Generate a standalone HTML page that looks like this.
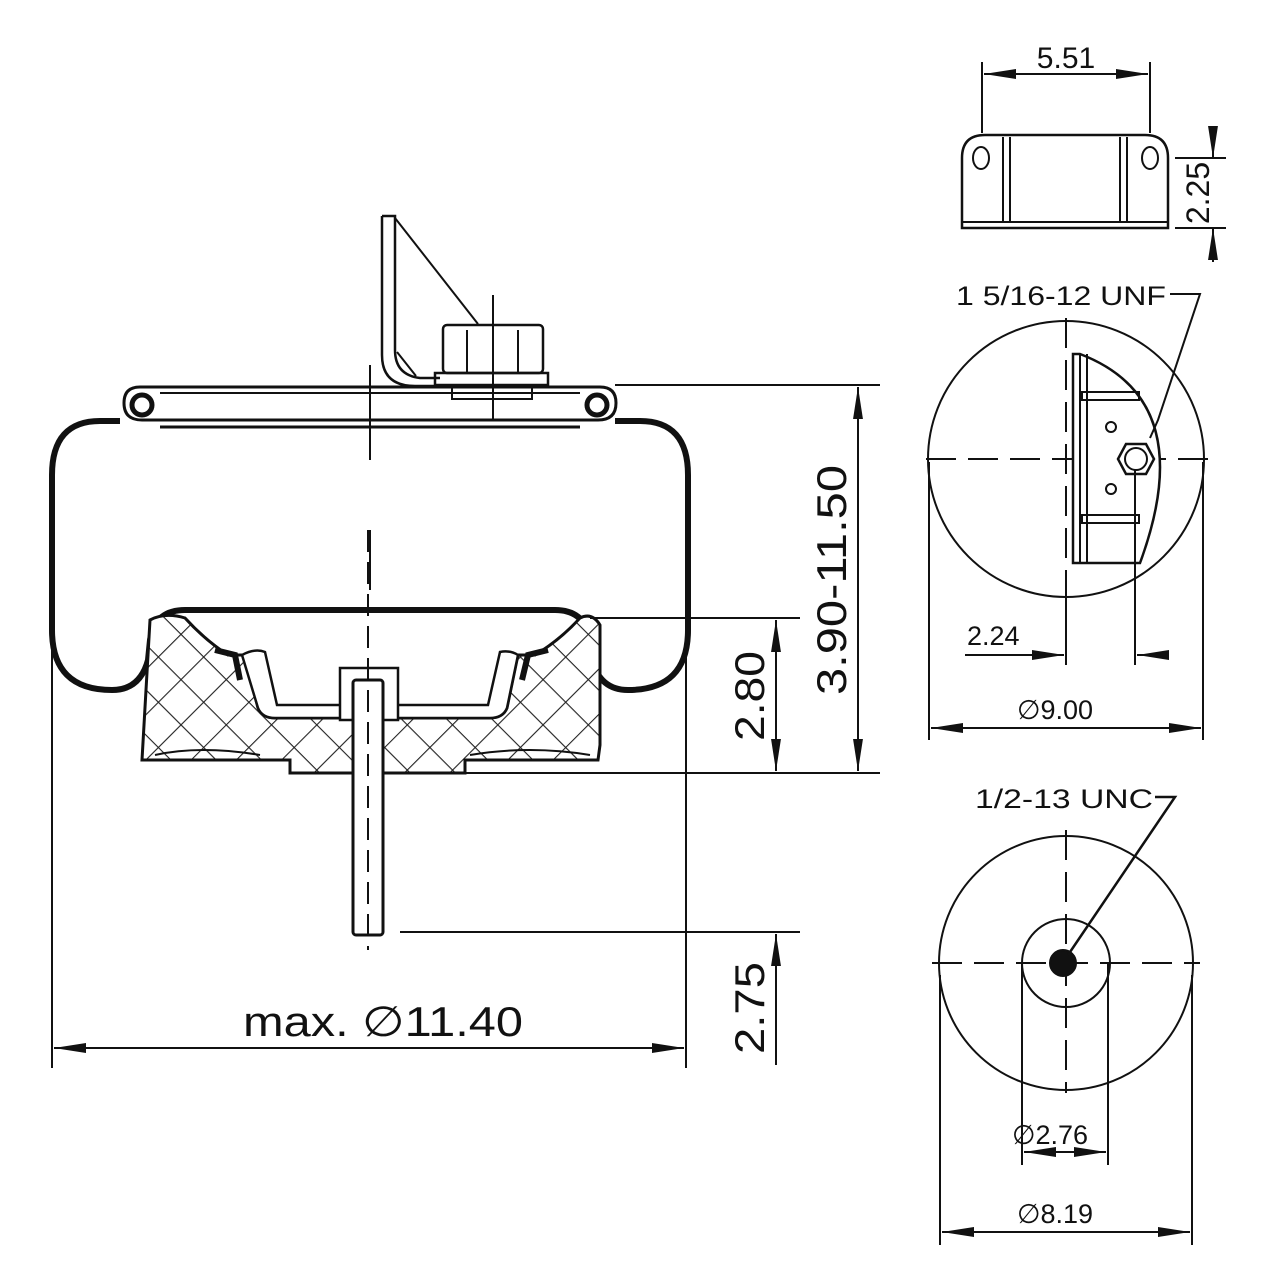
<!DOCTYPE html>
<html><head><meta charset="utf-8"><style>html,body{margin:0;padding:0;background:#fff}svg{display:block}text{font-family:"Liberation Sans","DejaVu Sans",sans-serif;fill:#111}</style></head>
<body>
<svg width="1280" height="1280" viewBox="0 0 1280 1280" xmlns="http://www.w3.org/2000/svg">
<defs>
<pattern id="hx" width="32" height="32" patternUnits="userSpaceOnUse" patternTransform="rotate(45)">
<rect width="32" height="32" fill="#fff"/>
<line x1="0" y1="0" x2="32" y2="0" stroke="#222" stroke-width="2.2"/>
<line x1="0" y1="0" x2="0" y2="32" stroke="#222" stroke-width="2.2"/>
</pattern>
<marker id="ar" viewBox="0 0 10 10" preserveAspectRatio="none" refX="10" refY="5" markerWidth="32" markerHeight="11" markerUnits="userSpaceOnUse" orient="auto-start-reverse"><path d="M0,0.5 L10,5 L0,9.5z" fill="#111"/></marker>
</defs>
<g stroke="#111" fill="none" stroke-width="2">
<path d="M120,421 L100,421 Q52,421 52,475 L52,630 Q52,690 112,690 Q140,690 148,660 L150,640 Q155,610 185,610 L555,610 Q585,610 590,640 L592,660 Q600,690 628,690 Q688,690 688,630 L688,475 Q688,421 640,421 L615,421" stroke-width="6"/>
<path d="M140,387 L600,387 Q616,387 616,403 Q616,420 598,420 L142,420 Q124,420 124,403 Q124,387 140,387z" stroke-width="3"/>
<line x1="160" y1="393" x2="580" y2="393"/>
<line x1="160" y1="427" x2="580" y2="427" stroke-width="3"/>
<circle cx="142" cy="405" r="10" stroke-width="5"/>
<circle cx="597" cy="405" r="10" stroke-width="5"/>
<line x1="370" y1="365" x2="370" y2="460"/>
<line x1="370" y1="530" x2="370" y2="590"/>
<path d="M382,216 L395,216 L395,350 Q395,375 420,378 L440,378" stroke-width="2.5"/>
<path d="M382,216 L382,355 Q382,386 415,386 L440,386" stroke-width="2.5"/>
<line x1="395" y1="218" x2="478" y2="324"/>
<line x1="397" y1="352" x2="416" y2="376"/>
<rect x="443" y="325" width="100" height="48" rx="4" stroke-width="2.5"/>
<line x1="467" y1="330" x2="467" y2="372"/><line x1="518" y1="330" x2="518" y2="372"/>
<rect x="435" y="373" width="113" height="12" stroke-width="2.5"/>
<rect x="452" y="385" width="80" height="14" stroke-width="2"/>
<line x1="493" y1="295" x2="493" y2="420"/>
<path d="M150,620 Q165,612 185,618 Q205,640 228,655 L245,655 L258,708 Q262,718 275,718 L490,718 Q503,718 507,708 L518,655 L535,655 Q560,640 580,618 Q592,612 600,625 L600,745 L598,760 L465,760 L465,773 L290,773 L290,760 L142,760 L150,620z" fill="url(#hx)" stroke-width="3"/>
<path d="M242,655 L258,708 Q262,718 275,718 L490,718 Q503,718 507,708 L518,655 Q510,650 500,652 L488,705 L277,705 L265,652 Q255,648 242,655z" fill="#fff" stroke-width="2.5"/>
<path d="M215,650 L235,655 L240,680" stroke-width="6"/>
<path d="M548,650 L528,655 L522,680" stroke-width="6"/>
<path d="M340,720 L340,668 L398,668 L398,720z" fill="#fff" stroke-width="2.5"/>
<path d="M155,755 Q200,745 260,755 M470,755 Q530,745 590,755"/>
<rect x="353" y="680" width="30" height="255" rx="3" fill="#fff" stroke-width="3"/>
<line x1="368" y1="530" x2="368" y2="950" stroke-dasharray="22 10"/>
<line x1="615" y1="385" x2="880" y2="385"/>
<line x1="590" y1="618" x2="800" y2="618"/>
<line x1="465" y1="773" x2="880" y2="773"/>
<line x1="400" y1="932" x2="800" y2="932"/>
<line x1="52" y1="640" x2="52" y2="1068"/>
<line x1="686" y1="620" x2="686" y2="1068"/>
<line x1="858" y1="387" x2="858" y2="771" marker-start="url(#ar)" marker-end="url(#ar)"/>
<line x1="776" y1="620" x2="776" y2="771" marker-start="url(#ar)" marker-end="url(#ar)"/>
<line x1="776" y1="1065" x2="776" y2="934" marker-end="url(#ar)"/>
<line x1="54" y1="1048" x2="684" y2="1048" marker-start="url(#ar)" marker-end="url(#ar)"/>
<path d="M962,228 L962,158 Q962,135 985,135 L1145,135 Q1168,135 1168,158 L1168,228z" stroke-width="2.5"/>
<line x1="962" y1="222" x2="1168" y2="222"/>
<line x1="1003" y1="137" x2="1003" y2="222"/><line x1="1010" y1="137" x2="1010" y2="222"/>
<line x1="1120" y1="137" x2="1120" y2="222"/><line x1="1127" y1="137" x2="1127" y2="222"/>
<ellipse cx="981" cy="158" rx="8" ry="11"/><ellipse cx="1150" cy="158" rx="8" ry="11"/>
<line x1="982" y1="62" x2="982" y2="133"/><line x1="1150" y1="62" x2="1150" y2="133"/>
<line x1="984" y1="74" x2="1148" y2="74" marker-start="url(#ar)" marker-end="url(#ar)"/>
<line x1="1175" y1="158" x2="1226" y2="158"/><line x1="1175" y1="228" x2="1226" y2="228"/>
<line x1="1213" y1="126" x2="1213" y2="158" marker-end="url(#ar)"/>
<line x1="1213" y1="262" x2="1213" y2="228" marker-end="url(#ar)"/>
<circle cx="1066" cy="459" r="138"/>
<line x1="926" y1="459" x2="1208" y2="459" stroke-dasharray="30 12"/>
<line x1="1066" y1="318" x2="1066" y2="600" stroke-dasharray="30 12"/>
<path d="M1073,354 L1080,354 Q1200,400 1140,563 L1080,563 L1073,563z" fill="#fff" stroke-width="2.5"/>
<line x1="1080" y1="354" x2="1080" y2="563"/><line x1="1087" y1="354" x2="1087" y2="563"/>
<rect x="1082" y="392" width="57" height="8"/><rect x="1082" y="515" width="57" height="8"/>
<circle cx="1111" cy="427" r="5"/><circle cx="1111" cy="489" r="5"/>
<path d="M1118,459 L1126,444 L1146,444 L1154,459 L1146,474 L1126,474z" stroke-width="2.5"/>
<circle cx="1136" cy="459" r="11"/>
<path d="M1170,294 L1200,294 L1158,420 L1150,438" stroke-width="2"/>
<line x1="929" y1="462" x2="929" y2="740"/><line x1="1203" y1="462" x2="1203" y2="740"/>
<line x1="931" y1="728" x2="1201" y2="728" marker-start="url(#ar)" marker-end="url(#ar)"/>
<line x1="1066" y1="600" x2="1066" y2="665"/><line x1="1135" y1="470" x2="1135" y2="665"/>
<line x1="965" y1="655" x2="1064" y2="655" marker-end="url(#ar)"/>
<line x1="1167" y1="655" x2="1137" y2="655" marker-end="url(#ar)"/>
<circle cx="1066" cy="963" r="127"/>
<circle cx="1066" cy="963" r="44"/>
<circle cx="1063" cy="963" r="13" fill="#111"/>
<line x1="932" y1="963" x2="1200" y2="963" stroke-dasharray="30 12"/>
<line x1="1066" y1="830" x2="1066" y2="1093" stroke-dasharray="30 12"/>
<path d="M1155,797 L1175,797 L1068,955" stroke-width="2.5"/>
<line x1="940" y1="975" x2="940" y2="1245"/><line x1="1192" y1="975" x2="1192" y2="1245"/>
<line x1="942" y1="1232" x2="1190" y2="1232" marker-start="url(#ar)" marker-end="url(#ar)"/>
<line x1="1022" y1="963" x2="1022" y2="1165"/><line x1="1108" y1="963" x2="1108" y2="1165"/>
<line x1="1024" y1="1152" x2="1106" y2="1152" marker-start="url(#ar)" marker-end="url(#ar)"/>
</g>
<text x="243" y="1036" font-size="42" textLength="280" lengthAdjust="spacingAndGlyphs">max. ∅11.40</text>
<text transform="translate(846,580) rotate(-90)" font-size="42" text-anchor="middle" textLength="230" lengthAdjust="spacingAndGlyphs">3.90-11.50</text>
<text transform="translate(764,696) rotate(-90)" font-size="42" text-anchor="middle" textLength="90" lengthAdjust="spacingAndGlyphs">2.80</text>
<text transform="translate(764,1008) rotate(-90)" font-size="42" text-anchor="middle" textLength="92" lengthAdjust="spacingAndGlyphs">2.75</text>
<text x="1066" y="68" font-size="30" text-anchor="middle">5.51</text>
<text transform="translate(1209,193) rotate(-90)" font-size="32" text-anchor="middle">2.25</text>
<text x="956" y="305" font-size="27" textLength="210" lengthAdjust="spacingAndGlyphs">1 5/16-12 UNF</text>
<text x="967" y="645" font-size="27">2.24</text>
<text x="1017" y="719" font-size="27">∅9.00</text>
<text x="975" y="808" font-size="27" textLength="178" lengthAdjust="spacingAndGlyphs">1/2-13 UNC</text>
<text x="1012" y="1144" font-size="27">∅2.76</text>
<text x="1017" y="1223" font-size="27">∅8.19</text>
</svg>
</body></html>
